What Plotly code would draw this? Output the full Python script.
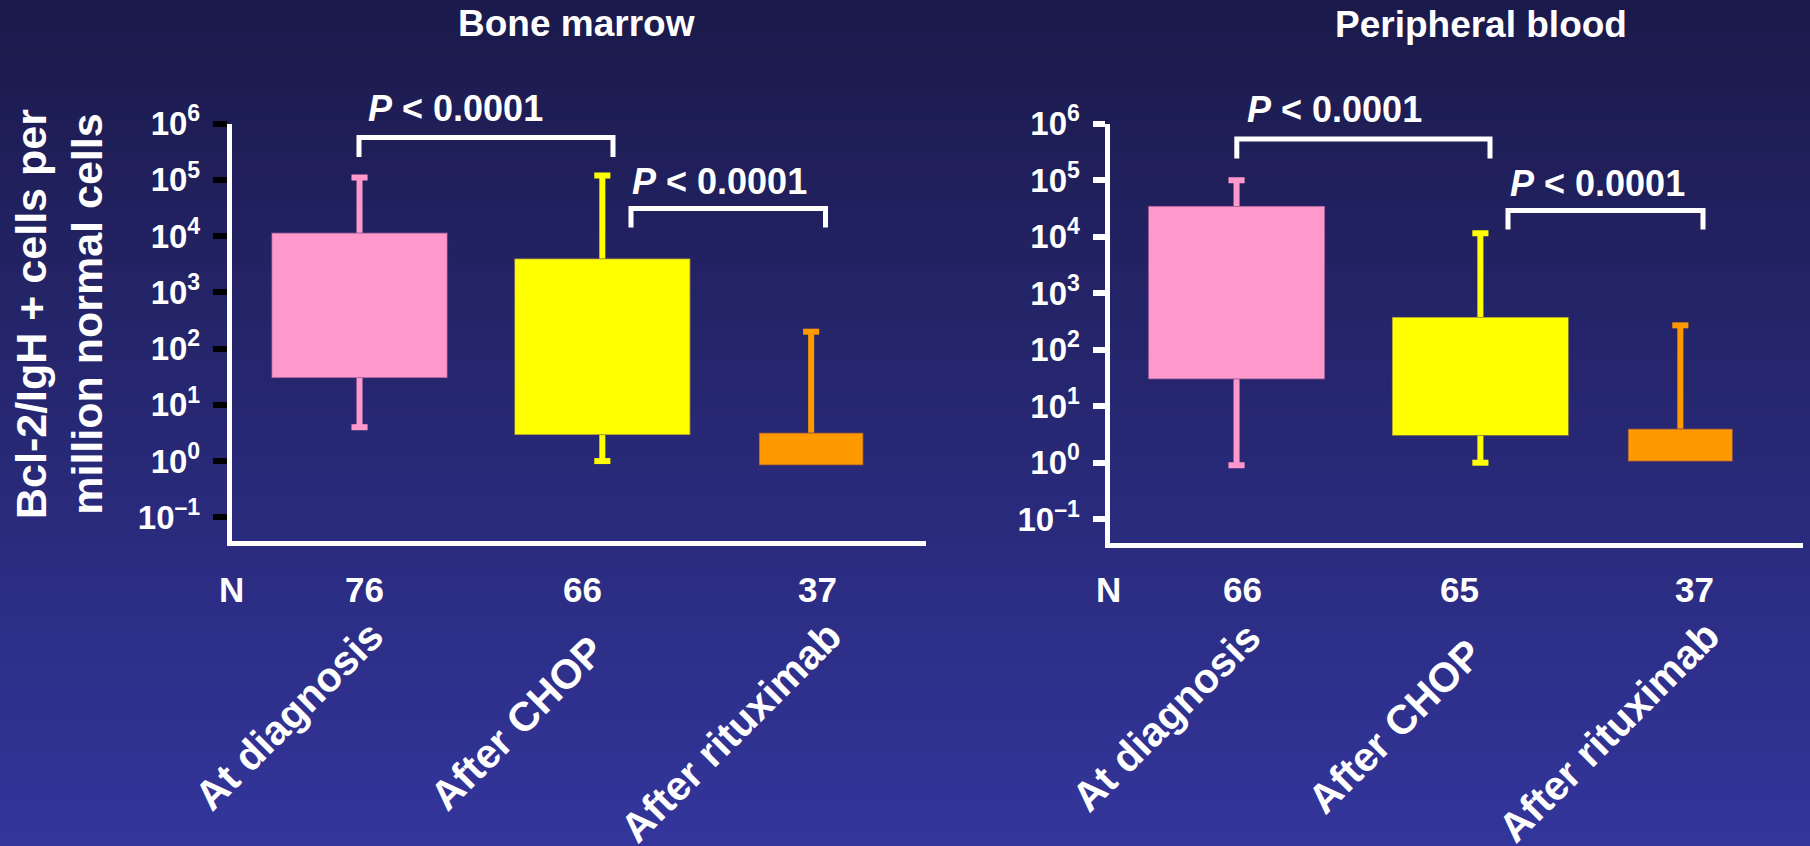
import plotly.graph_objects as go

W, H = 1810, 846
FONT = "Liberation Sans, Arial, sans-serif"

# ---- data ----
categories = ["At diagnosis", "After CHOP", "After rituximab"]
box_colors = ["#FF99CC", "#FFFF00", "#FF9900"]

# Bone marrow (box = 25th-75th percentile, whiskers = range)
bm_n = [76, 66, 37]
bm_q1 = [30, 2.9, 0.84]
bm_q3 = [11500, 4000, 3.2]
bm_low = [4.0, 1.0, None]
bm_high = [110000, 120000, 200]

# Peripheral blood
pb_n = [66, 65, 37]
pb_q1 = [30, 3.0, 1.05]
pb_q3 = [35000, 380, 4.0]
pb_low = [0.9, 1.0, None]
pb_high = [100000, 11500, 270]

p_text = "<i>P</i> &lt; 0.0001"

y_exponents = [-1, 0, 1, 2, 3, 4, 5, 6]
y_tickvals = [10.0 ** e for e in y_exponents]
y_ticktext = ["10<sup>%s</sup>" % (str(e).replace("-", "\u2013")) for e in y_exponents]

# ---- layout helpers (pixel -> paper) ----
def px(x):
    return x / W


def py(y):
    return 1 - y / H


fig = go.Figure()

# background gradient
top_rgb = (27, 26, 75)
bot_rgb = (51, 53, 155)
n_strips = 90
for i in range(n_strips):
    t = i / (n_strips - 1)
    c = tuple(round(a + (b - a) * t) for a, b in zip(top_rgb, bot_rgb))
    fig.add_shape(type="rect", xref="paper", yref="paper",
                  x0=0, x1=1, y0=1 - i / n_strips, y1=max(0, 1 - (i + 1) / n_strips - 0.002),
                  fillcolor="rgb(%d,%d,%d)" % c, line_width=0, layer="below")

panels = [
    dict(xa="x", ya="y", pos=[0.0, 1.0, 1.86], q1=bm_q1, q3=bm_q3, lo=bm_low, hi=bm_high),
    dict(xa="x2", ya="y2", pos=[0.0, 1.0, 1.82], q1=pb_q1, q3=pb_q3, lo=pb_low, hi=pb_high),
]
box_widths = [0.725, 0.725, 0.43]

for p in panels:
    q1, q3 = p["q1"], p["q3"]
    fig.add_trace(go.Bar(
        x=p["pos"], y=[b - a for a, b in zip(q1, q3)], base=q1, width=box_widths,
        marker=dict(color=box_colors, line=dict(color="rgba(60,40,110,0.55)", width=1.5)),
        xaxis=p["xa"], yaxis=p["ya"], showlegend=False, hoverinfo="skip"))
    for i, x in enumerate(p["pos"]):
        col = box_colors[i]
        # upper whisker
        fig.add_trace(go.Scatter(
            x=[x, x], y=[q3[i], p["hi"][i]], mode="lines",
            line=dict(color=col, width=6), xaxis=p["xa"], yaxis=p["ya"],
            showlegend=False, hoverinfo="skip"))
        caps = [p["hi"][i]]
        if p["lo"][i] is not None:
            fig.add_trace(go.Scatter(
                x=[x, x], y=[p["lo"][i], q1[i]], mode="lines",
                line=dict(color=col, width=6), xaxis=p["xa"], yaxis=p["ya"],
                showlegend=False, hoverinfo="skip"))
            caps.append(p["lo"][i])
        fig.add_trace(go.Scatter(
            x=[x] * len(caps), y=caps, mode="markers",
            marker=dict(symbol="line-ew", size=11.5, color=col,
                        line=dict(color=col, width=6)),
            xaxis=p["xa"], yaxis=p["ya"], showlegend=False, hoverinfo="skip"))

axis_common = dict(showgrid=False, zeroline=False, showline=True,
                   linecolor="white", linewidth=5)
yaxis_common = dict(axis_common, type="log", tickmode="array",
                    tickvals=y_tickvals, ticktext=y_ticktext, ticks="outside",
                    ticklen=14, tickwidth=6, ticklabelstandoff=6,
                    tickfont=dict(family=FONT, size=33, color="white", weight="bold"))

fig.update_layout(
    width=W, height=H,
    margin=dict(l=0, r=0, t=0, b=0, pad=0, autoexpand=False),
    paper_bgcolor="rgb(40,41,115)",
    plot_bgcolor="rgba(0,0,0,0)",
    barmode="overlay",
    xaxis=dict(axis_common, domain=[px(231.8), px(926)], range=[-0.526, 2.333],
               showticklabels=False, ticks=""),
    yaxis=dict(yaxis_common, domain=[py(541.2), py(123.7)], range=[-1.425, 6],
               tickcolor="black", anchor="x"),
    xaxis2=dict(axis_common, domain=[px(1109.5), px(1803)], range=[-0.521, 2.323],
                showticklabels=False, ticks="", anchor="y2"),
    yaxis2=dict(yaxis_common, domain=[py(542.7), py(123.7)], range=[-1.416, 6],
                tickcolor="white", ticklen=12, anchor="x2"),
)

# significance brackets
brackets = [(359, 613, 137.5, 157), (631, 825.5, 208.5, 227.5),
            (1236.8, 1490, 139, 158.5), (1508, 1703, 210.5, 229.5)]
for x0, x1, yt, yb in brackets:
    fig.add_shape(type="path", xref="paper", yref="paper",
                  path="M %f,%f L %f,%f L %f,%f L %f,%f" % (
                      px(x0), py(yb), px(x0), py(yt), px(x1), py(yt), px(x1), py(yb)),
                  line=dict(color="white", width=5))


def label(text, x, y, size, angle=0):
    fig.add_annotation(text=text, x=px(x), y=py(y), xref="paper", yref="paper",
                       showarrow=False, xanchor="center", yanchor="middle",
                       textangle=angle,
                       font=dict(family=FONT, size=size, color="white", weight="bold"))


# panel titles
label("Bone marrow", 576.3, 23.5, 37)
label("Peripheral blood", 1481, 24, 37)

# P values
for x, y in [(456, 108.3), (719.3, 181.5), (1334, 109.2), (1597, 183)]:
    label(p_text, x, y, 36)

# y-axis title
label("Bcl-2/IgH + cells per<br>million normal cells", 59, 314, 43, -90)

# N row
label("N", 231.2, 589, 35)
label("N", 1108.2, 589, 35)
for n, x in zip(bm_n, [364, 582.7, 817]):
    label(str(n), x, 589, 35)
for n, x in zip(pb_n, [1242.4, 1459.6, 1694.7]):
    label(str(n), x, 589, 35)

# rotated group labels
for cat, (x, y) in zip(categories, [(288.8, 715.8), (517.3, 722.5), (731, 731.7)]):
    label(cat, x, y, 41, -45)
for cat, (x, y) in zip(categories, [(1166.4, 716.7), (1395.4, 725.8), (1608.7, 731.7)]):
    label(cat, x, y, 41, -45)

fig.write_html("out.html", config={"displayModeBar": False})
